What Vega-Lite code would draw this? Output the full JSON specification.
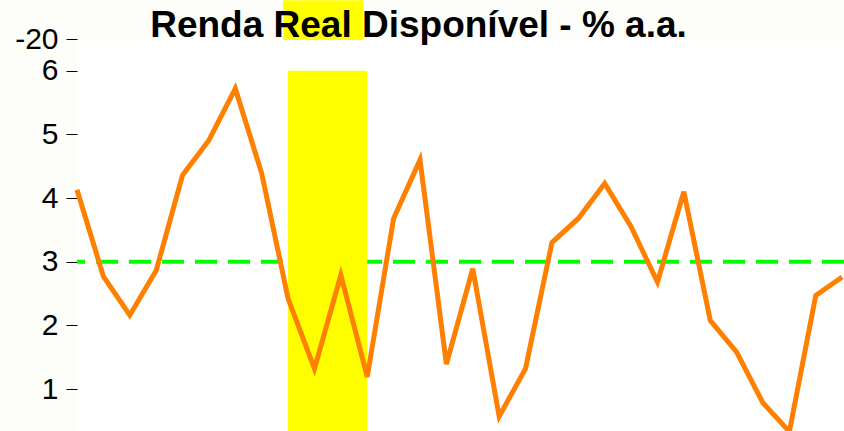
{
  "$schema": "https://vega.github.io/schema/vega-lite/v6.json",
  "width": 767,
  "height": 392,
  "autosize": {"type": "none"},
  "padding": {"left": 77, "top": 39, "right": 0, "bottom": 0},
  "background": "#fdfdf9",
  "config": {
    "view": {"fill": "#ffffff", "stroke": null},
    "font": "Liberation Sans"
  },
  "title": {
    "text": "Renda Real Disponível - % a.a.",
    "font": "Liberation Sans",
    "fontSize": 37,
    "fontWeight": "bold",
    "color": "#000000",
    "anchor": "middle",
    "frame": "group",
    "baseline": "alphabetic",
    "dx": -42,
    "offset": -74
  },
  "datasets": {
    "series": [
      {"t": 0, "v": 4.13}, {"t": 1, "v": 2.77}, {"t": 2, "v": 2.16}, {"t": 3, "v": 2.86},
      {"t": 4, "v": 4.36}, {"t": 5, "v": 4.91}, {"t": 6, "v": 5.72}, {"t": 7, "v": 4.39},
      {"t": 8, "v": 2.42}, {"t": 9, "v": 1.32}, {"t": 10, "v": 2.79}, {"t": 11, "v": 1.19},
      {"t": 12, "v": 3.68}, {"t": 13, "v": 4.6}, {"t": 14, "v": 1.39}, {"t": 15, "v": 2.89},
      {"t": 16, "v": 0.57}, {"t": 17, "v": 1.32}, {"t": 18, "v": 3.3}, {"t": 19, "v": 3.68},
      {"t": 20, "v": 4.23}, {"t": 21, "v": 3.55}, {"t": 22, "v": 2.68}, {"t": 23, "v": 4.1},
      {"t": 24, "v": 2.08}, {"t": 25, "v": 1.58}, {"t": 26, "v": 0.78}, {"t": 27, "v": 0.33},
      {"t": 28, "v": 2.47}, {"t": 29, "v": 2.76}
    ],
    "bands": [
      {"start": 8, "end": 11, "lo": 0.34, "hi": 6},
      {"start": 7.81, "end": 10.84, "lo": 6.485, "hi": 7.11}
    ],
    "ref": [{"level": 3}]
  },
  "layer": [
    {
      "data": {"name": "ref"},
      "mark": {"type": "rule", "color": "#00ff00", "strokeWidth": 4, "strokeDash": [22, 11]},
      "encoding": {
        "y": {"field": "level", "type": "quantitative", "scale": {"domain": [0.34, 6.5], "nice": false, "zero": false}}
      }
    },
    {
      "data": {"name": "bands"},
      "mark": {"type": "rect", "color": "#ffff00", "clip": false},
      "encoding": {
        "x": {"field": "start", "type": "quantitative", "scale": {"domain": [0, 29.07], "nice": false, "zero": false}, "axis": null},
        "x2": {"field": "end"},
        "y": {"field": "lo", "type": "quantitative"},
        "y2": {"field": "hi"}
      }
    },
    {
      "data": {"name": "series"},
      "mark": {"type": "line", "color": "#ff8000", "strokeWidth": 5, "strokeJoin": "miter"},
      "encoding": {
        "x": {"field": "t", "type": "quantitative", "axis": null},
        "y": {
          "field": "v",
          "type": "quantitative",
          "axis": {
            "title": null,
            "domain": false,
            "grid": false,
            "values": [1, 2, 3, 4, 5, 6, 6.5],
            "format": "~g",
            "labelExpr": "datum.value == 6.5 ? '-20' : datum.label",
            "labelFont": "Liberation Sans",
            "labelFontSize": 30,
            "labelColor": "#000000",
            "labelPadding": 8,
            "tickSize": 11,
            "tickColor": "#000000",
            "tickWidth": 1,
            "labelFlush": false,
            "labelOverlap": false
          }
        }
      }
    }
  ]
}
